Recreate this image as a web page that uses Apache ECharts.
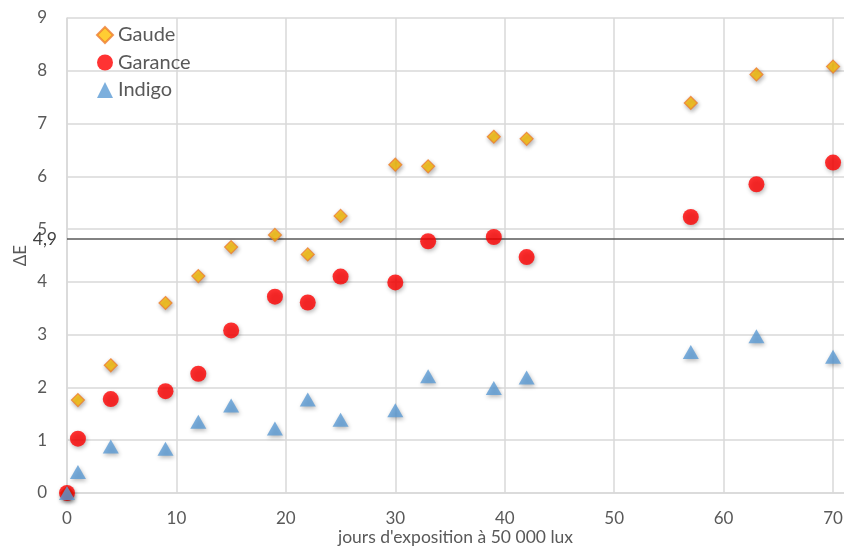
<!DOCTYPE html>
<html>
<head>
<meta charset="utf-8">
<script src="https://cdn.jsdelivr.net/npm/echarts@6/dist/echarts.min.js"></script>
<style>
html,body{margin:0;padding:0;background:#fff;}
#chart{width:844px;height:549px;}
</style>
</head>
<body>
<div id="chart"></div>
<script>
// Data
var days = [0, 1, 4, 9, 12, 15, 19, 22, 25, 30, 33, 39, 42, 57, 63, 70];
var gaude = [0, 1.76, 2.42, 3.60, 4.11, 4.66, 4.89, 4.52, 5.25, 6.22, 6.19, 6.75, 6.71, 7.39, 7.93, 8.08];
var garance = [0, 1.03, 1.78, 1.93, 2.26, 3.08, 3.72, 3.61, 4.10, 3.99, 4.77, 4.85, 4.47, 5.23, 5.85, 6.26];
var indigo = [0, 0.40, 0.88, 0.84, 1.35, 1.66, 1.22, 1.77, 1.39, 1.57, 2.21, 1.99, 2.19, 2.67, 2.97, 2.58];
var seriesNames = ['Gaude', 'Garance', 'Indigo'];
var thresholdPos = 4.81;
var thresholdLabel = '4,9';
var xAxisTitle = "jours d'exposition à 50 000 lux";
var yAxisTitle = 'ΔE';

function pairs(xs, ys) { return xs.map(function (x, i) { return [x, ys[i]]; }); }

var FONT = 'Lato';
var shadow = { shadowBlur: 4, shadowColor: 'rgba(0,0,0,0.35)', shadowOffsetX: 1, shadowOffsetY: 2 };

var chart = echarts.init(document.getElementById('chart'));
chart.setOption({
  backgroundColor: '#ffffff',
  animation: false,
  grid: { left: 67, right: 0, top: 18, bottom: 56, containLabel: false, outerBoundsMode: 'none' },
  legend: {
    orient: 'vertical', left: 96, top: 25, padding: 0,
    itemWidth: 16, itemHeight: 16, itemGap: 7.5,
    data: seriesNames,
    textStyle: { fontFamily: FONT, fontSize: 20, color: '#595959', lineHeight: 20 }
  },
  xAxis: {
    type: 'value', min: 0, max: 71, interval: 10,
    name: xAxisTitle, nameLocation: 'middle', nameGap: 35, nameMoveOverlap: false,
    nameTextStyle: { fontFamily: FONT, fontSize: 17.5, color: '#595959' },
    axisLine: { show: true, lineStyle: { color: '#D9D9D9', width: 1.5 } },
    axisTick: { show: false },
    axisLabel: { fontFamily: FONT, fontSize: 17, color: '#595959', margin: 17, showMaxLabel: false,
      formatter: function (v) { return v % 10 === 0 ? String(v) : ''; } },
    splitLine: { show: true, showMaxLine: false, lineStyle: { color: '#D9D9D9', width: 1.5 } }
  },
  yAxis: {
    type: 'value', min: 0, max: 9, interval: 1,
    name: yAxisTitle, nameLocation: 'middle', nameGap: 38, nameMoveOverlap: false,
    nameTextStyle: { fontFamily: FONT, fontSize: 17, color: '#595959' },
    axisLine: { show: true, lineStyle: { color: '#D9D9D9', width: 1.5 } },
    axisTick: { show: false },
    axisLabel: { fontFamily: FONT, fontSize: 17, color: '#595959', margin: 20 },
    splitLine: { show: true, lineStyle: { color: '#D9D9D9', width: 1.5 } }
  },
  series: [
    {
      name: seriesNames[0], type: 'scatter', symbol: 'diamond', symbolSize: 13,
      data: pairs(days, gaude),
      itemStyle: Object.assign({ color: '#FFC000', borderColor: '#ED7D31', borderWidth: 1.2 }, shadow),
      markLine: {
        silent: true, symbol: 'none', z: 1,
        lineStyle: { color: '#595959', width: 1.5, type: 'solid' },
        label: { show: true, position: 'start', formatter: thresholdLabel, distance: 10,
          fontFamily: FONT, fontSize: 17.5, color: '#404040' },
        data: [{ yAxis: thresholdPos }]
      }
    },
    {
      name: seriesNames[1], type: 'scatter', symbol: 'circle', symbolSize: 16,
      data: pairs(days, garance),
      itemStyle: Object.assign({ color: '#FF0000' }, shadow)
    },
    {
      name: seriesNames[2], type: 'scatter', symbol: 'triangle', symbolSize: [16, 14],
      data: pairs(days, indigo),
      itemStyle: Object.assign({ color: '#5B9BD5' }, shadow)
    }
  ]
});
</script>
</body>
</html>
